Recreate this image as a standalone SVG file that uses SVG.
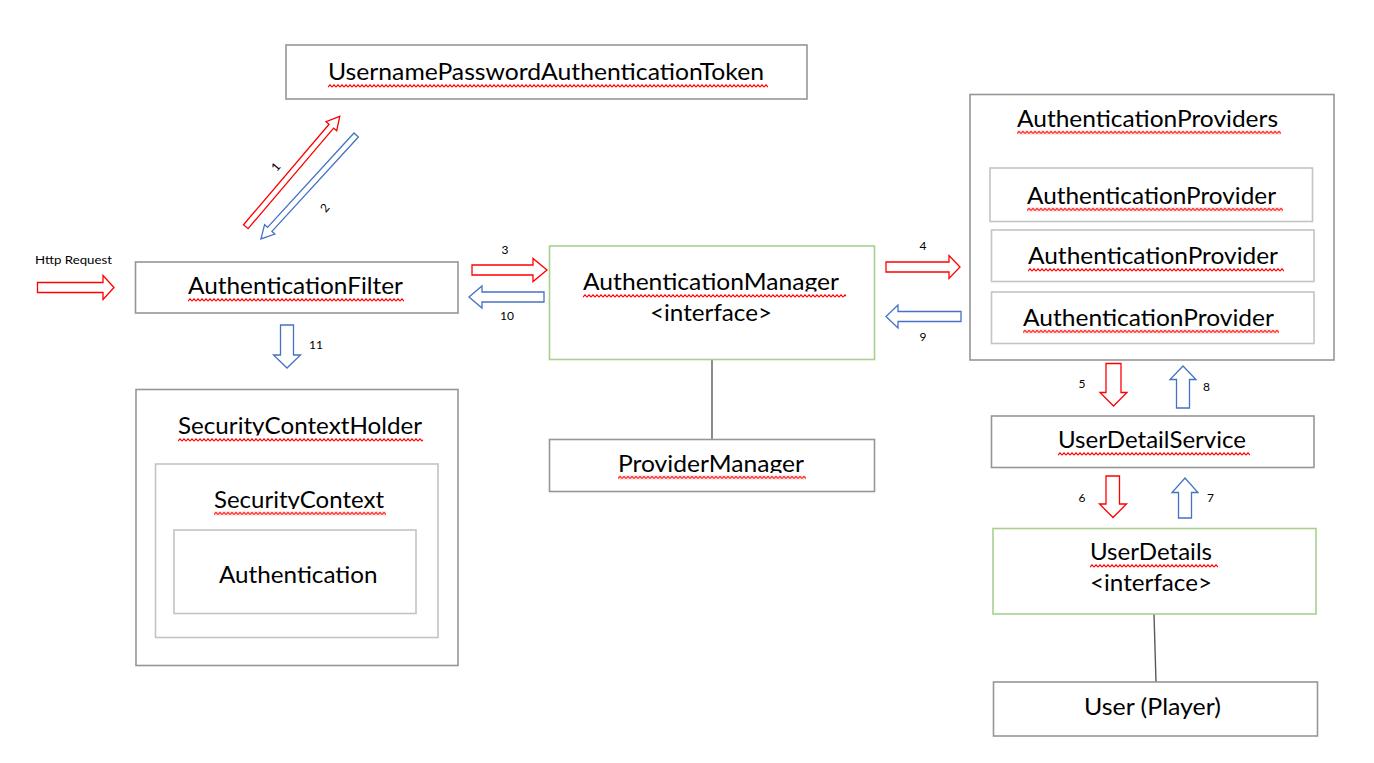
<svg xmlns="http://www.w3.org/2000/svg" width="1374" height="763" viewBox="0 0 1374 763">
  <style>
    .box { fill: #ffffff; stroke: #969696; stroke-width: 1.6; }
    .inner { fill: #ffffff; stroke: #c4c4c4; stroke-width: 1.6; }
    .iface { fill: #ffffff; stroke: #a9d18e; stroke-width: 1.6; }
    .link { stroke: #595959; stroke-width: 1.4; fill: none; }
    .lbl { font-family: Lato, "Open Sans", "Liberation Sans", sans-serif; font-size: 23.5px; fill: #000000; }
    .num { font-family: Lato, "Open Sans", "Liberation Sans", sans-serif; font-size: 12px; fill: #000000; }
    .fwd { fill: #ffffff; stroke: #ff0000; stroke-width: 1.3; stroke-linejoin: miter; }
    .back { fill: #ffffff; stroke: #4472c4; stroke-width: 1.3; stroke-linejoin: miter; }
    .mask { fill: #ffffff; }
  </style>
  <defs>
    <!-- spell-check style wavy underline -->
    <pattern id="wave" width="4" height="4" patternUnits="userSpaceOnUse">
      <path d="M0 3.2 L2 0.8 L4 3.2" fill="none" stroke="#ff0000" stroke-width="1.1"/>
    </pattern>
  </defs>

  <rect width="1374" height="763" fill="#ffffff"/>

  <!-- connectors -->
  <g id="connectors">
    <line class="link" x1="712" y1="360" x2="712" y2="439"/>
    <line class="link" x1="1154" y1="614" x2="1156" y2="682" stroke="#000000"/>

    <!-- Http Request -->
    <path class="fwd" d="M37.5 282.5 H103 V275.5 L114 287.5 L103 299.5 V292.5 H37.5 Z"/>
    <text class="num" x="35" y="264" textLength="77" lengthAdjust="spacingAndGlyphs">Http Request</text>

    <!-- 1 / 2 diagonal -->
    <path class="fwd" transform="translate(245.8,226.7) rotate(-49.6)" d="M0 -3 H132 V-7 L145 0 L132 7 V3 H0 Z"/>
    <path class="back" transform="translate(356.2,135) rotate(132.5)" d="M0 -3 H128 V-7 L141 0 L128 7 V3 H0 Z"/>
    <text class="num" transform="translate(276,167) rotate(-49.6)" text-anchor="middle" dy="4">1</text>
    <text class="num" transform="translate(325,208) rotate(-49.6)" text-anchor="middle" dy="4">2</text>

    <!-- 3 / 10 -->
    <path class="fwd" d="M472 265 H533 V258.5 L547 270 L533 281.5 V275 H472 Z"/>
    <path class="back" d="M544 292 H482 V286 L469 297 L482 308 V302 H544 Z"/>
    <text class="num" x="501.5" y="253.5">3</text>
    <text class="num" x="500" y="320">10</text>

    <!-- 4 / 9 -->
    <path class="fwd" d="M886 262 H949 V255.5 L960 267 L949 278.5 V272 H886 Z"/>
    <path class="back" d="M961 311.5 H898 V305 L886 316.5 L898 328 V321.5 H961 Z"/>
    <text class="num" x="919.5" y="250">4</text>
    <text class="num" x="919.5" y="341">9</text>

    <!-- 5 / 8 -->
    <path class="fwd" d="M1106 363.5 V392.5 H1100 L1113.5 406 L1127 392.5 H1121 V363.5 Z"/>
    <path class="back" d="M1176.5 408 V379.5 H1170 L1183 366 L1196 379.5 H1189.5 V408 Z"/>
    <text class="num" x="1078.5" y="388">5</text>
    <text class="num" x="1203" y="391">8</text>

    <!-- 6 / 7 -->
    <path class="fwd" d="M1106 476 V504 H1099.5 L1113 517.5 L1126.5 504 H1119.5 V476 Z"/>
    <path class="back" d="M1178.5 518 V492.5 H1172 L1185 478 L1198 492.5 H1191.5 V518 Z"/>
    <text class="num" x="1078.5" y="501.5">6</text>
    <text class="num" x="1207" y="501.5">7</text>

    <!-- 11 -->
    <path class="back" d="M280.5 325 V355 H273.5 L287 368 L300.5 355 H293.5 V325 Z"/>
    <text class="num" x="309" y="348.5">11</text>
  </g>

  <g id="token">
    <rect class="box" x="286" y="45" width="521" height="54"/>
    <text class="lbl" x="328" y="80" textLength="436" lengthAdjust="spacingAndGlyphs">UsernamePasswordAuthenticationToken</text>
    <rect class="mask" x="328" y="81.5" width="440" height="7.5"/>
    <rect fill="url(#wave)" width="440" height="4" transform="translate(328,84)"/>
  </g>

  <g id="authFilter">
    <rect class="box" x="135.5" y="262" width="322.5" height="51"/>
    <text class="lbl" x="188" y="294" textLength="215" lengthAdjust="spacingAndGlyphs">AuthenticationFilter</text>
    <rect class="mask" x="188" y="295.5" width="216" height="7.5"/>
    <rect fill="url(#wave)" width="216" height="4" transform="translate(188,298)"/>
  </g>

  <g id="securityContextHolder">
    <rect class="box" x="136" y="389.5" width="322" height="276"/>
    <text class="lbl" x="178" y="434" textLength="244" lengthAdjust="spacingAndGlyphs">SecurityContextHolder</text>
    <rect class="mask" x="178" y="435.5" width="245" height="8.5"/>
    <rect fill="url(#wave)" width="245" height="4" transform="translate(178,438)"/>
  </g>

  <g id="securityContext">
    <rect class="inner" x="155.5" y="464" width="282.5" height="173.5"/>
    <text class="lbl" x="214" y="507.5" textLength="170" lengthAdjust="spacingAndGlyphs">SecurityContext</text>
    <rect class="mask" x="214" y="509" width="172" height="8.5"/>
    <rect fill="url(#wave)" width="172" height="4" transform="translate(214,511.5)"/>
  </g>

  <g id="authentication">
    <rect class="inner" x="174" y="530" width="242" height="83.5"/>
    <text class="lbl" x="219" y="582.5" textLength="158.5" lengthAdjust="spacingAndGlyphs">Authentication</text>
  </g>

  <g id="authManager">
    <rect class="iface" x="549.5" y="246" width="325" height="113.5"/>
    <text class="lbl" x="583" y="290" textLength="256" lengthAdjust="spacingAndGlyphs">AuthenticationManager</text>
    <rect class="mask" x="583" y="291.5" width="263" height="7.5"/>
    <rect fill="url(#wave)" width="263" height="4" transform="translate(583,294)"/>
    <text class="lbl" x="650" y="321" textLength="122" lengthAdjust="spacingAndGlyphs">&lt;interface&gt;</text>
  </g>

  <g id="providerManager">
    <rect class="box" x="549.5" y="439.5" width="325" height="52"/>
    <text class="lbl" x="618" y="471.5" textLength="186" lengthAdjust="spacingAndGlyphs">ProviderManager</text>
    <rect class="mask" x="618" y="473" width="188" height="8.5"/>
    <rect fill="url(#wave)" width="188" height="4" transform="translate(618,475.5)"/>
  </g>

  <g id="authProviders">
    <rect class="box" x="970" y="94.5" width="364" height="265.5"/>
    <text class="lbl" x="1017" y="126.5" textLength="261" lengthAdjust="spacingAndGlyphs">AuthenticationProviders</text>
    <rect class="mask" x="1017" y="128" width="264" height="7.5"/>
    <rect fill="url(#wave)" width="264" height="4" transform="translate(1017,130.5)"/>
  </g>

  <g id="authProvider1">
    <rect class="inner" x="990" y="168" width="322.5" height="53.5"/>
    <text class="lbl" x="1027" y="203.5" textLength="249" lengthAdjust="spacingAndGlyphs">AuthenticationProvider</text>
    <rect class="mask" x="1027" y="205" width="256" height="7.5"/>
    <rect fill="url(#wave)" width="256" height="4" transform="translate(1027,207.5)"/>
  </g>

  <g id="authProvider2">
    <rect class="inner" x="991.5" y="230" width="322.5" height="51.5"/>
    <text class="lbl" x="1028" y="264" textLength="250" lengthAdjust="spacingAndGlyphs">AuthenticationProvider</text>
    <rect class="mask" x="1028" y="265.5" width="256" height="7.5"/>
    <rect fill="url(#wave)" width="256" height="4" transform="translate(1028,268)"/>
  </g>

  <g id="authProvider3">
    <rect class="inner" x="991.5" y="292" width="322.5" height="51.5"/>
    <text class="lbl" x="1023" y="325.5" textLength="251" lengthAdjust="spacingAndGlyphs">AuthenticationProvider</text>
    <rect class="mask" x="1023" y="327" width="256" height="7.5"/>
    <rect fill="url(#wave)" width="256" height="4" transform="translate(1023,329.5)"/>
  </g>

  <g id="userDetailService">
    <rect class="box" x="991.5" y="416" width="322.5" height="51.5"/>
    <text class="lbl" x="1058" y="448" textLength="188" lengthAdjust="spacingAndGlyphs">UserDetailService</text>
    <rect class="mask" x="1058" y="449.5" width="192" height="7.5"/>
    <rect fill="url(#wave)" width="192" height="4" transform="translate(1058,452)"/>
  </g>

  <g id="userDetails">
    <rect class="iface" x="993" y="528.5" width="323" height="85.5"/>
    <text class="lbl" x="1090" y="560" textLength="122" lengthAdjust="spacingAndGlyphs">UserDetails</text>
    <rect class="mask" x="1090" y="561.5" width="128" height="7.5"/>
    <rect fill="url(#wave)" width="128" height="4" transform="translate(1090,564)"/>
    <text class="lbl" x="1090" y="590.5" textLength="122" lengthAdjust="spacingAndGlyphs">&lt;interface&gt;</text>
  </g>

  <g id="user">
    <rect class="box" x="993.5" y="682" width="324" height="54"/>
    <text class="lbl" x="1084" y="714.5" textLength="137" lengthAdjust="spacingAndGlyphs">User (Player)</text>
  </g>
</svg>
